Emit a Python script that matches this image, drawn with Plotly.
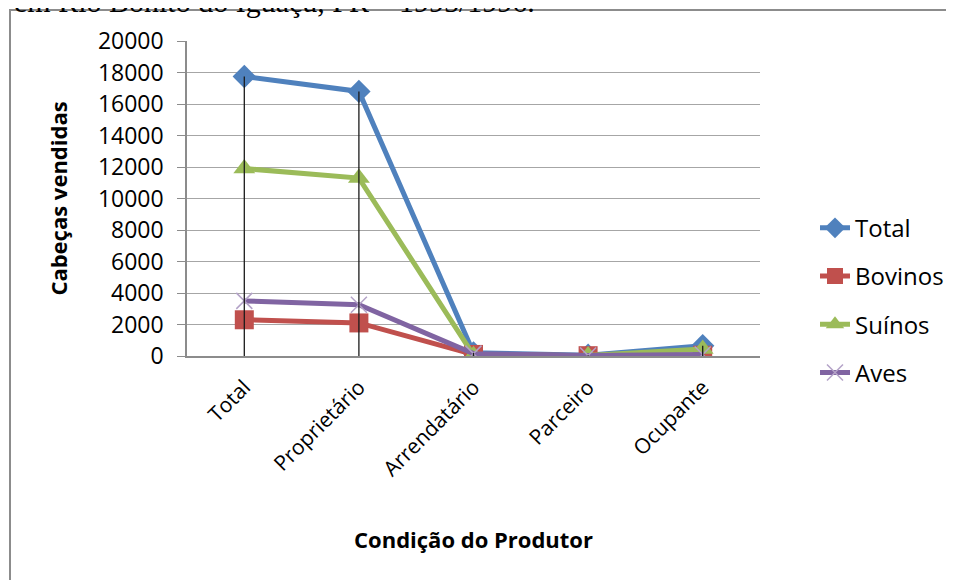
import plotly.graph_objects as go

categories = ["Total", "Proprietário", "Arrendatário", "Parceiro", "Ocupante"]
total = [17750, 16800, 200, 50, 650]
bovinos = [2300, 2100, 100, 20, 50]
suinos = [11900, 11300, 50, 30, 450]
aves = [3500, 3250, 150, 30, 100]
y_ticks = [0, 2000, 4000, 6000, 8000, 10000, 12000, 14000, 16000, 18000, 20000]

FONT = "Open Sans"
OFF = 8  # page body margin
W, H = 954 - OFF, 580 - OFF
L, T = 187 - OFF, 41 - OFF
R = W - (760 - OFF)
B = H - (356.5 - OFF)
PW, PH = W - L - R, H - T - B

def px(xs):
    return (xs - OFF - L) / PW

def py(ys):
    return (H - B - (ys - OFF)) / PH

fig = go.Figure()

series = [
    ("Total", total, "#4F81BD", dict(symbol="diamond", size=18, color="#4F81BD")),
    ("Bovinos", bovinos, "#C0504D", dict(symbol="square", size=19, color="#C0504D")),
    ("Suínos", suinos, "#9BBB59", dict(symbol="triangle-up", size=19, color="#9BBB59")),
    ("Aves", aves, "#8064A2", dict(symbol="x-thin", size=16, color="#B3A2C7",
                                    line=dict(color="#B3A2C7", width=1.5))),
]
for name, vals, col, mk in series:
    fig.add_trace(go.Scatter(
        x=categories, y=vals, name=name, mode="lines+markers",
        line=dict(color=col, width=5), marker=mk, legendgroup=name,
    ))

# drop lines from the highest value down to the axis
dx, dy = [], []
for i, c in enumerate(categories):
    m = max(total[i], bovinos[i], suinos[i], aves[i])
    dx += [c, c, None]
    dy += [m, 0, None]
fig.add_trace(go.Scatter(x=dx, y=dy, mode="lines", line=dict(color="#1a1a1a", width=1.3),
                         showlegend=False, hoverinfo="skip"))

fig.update_layout(
    width=W, height=H,
    margin=dict(l=L, r=R, t=T, b=B, autoexpand=False),
    paper_bgcolor="white", plot_bgcolor="white",
    font=dict(family=FONT, color="#000000"),
    showlegend=True,
    legend=dict(x=px(815), y=py(206), xanchor="left", yanchor="top",
                font=dict(size=24, family=FONT, color="#000"),
                tracegroupgap=14, bgcolor="rgba(0,0,0,0)"),
    xaxis=dict(
        type="category", range=[-0.5, 4.5], tickangle=-45,
        tickfont=dict(size=21, family=FONT), showgrid=False,
        showline=True, linecolor="#8C8C8C", linewidth=1.5,
        ticks="", ticklabelstandoff=9, automargin=False,
        title=dict(text="<b>Condição do Produtor</b>", font=dict(size=22, family=FONT), standoff=52),
    ),
    yaxis=dict(
        range=[0, 20000], tickvals=y_ticks, ticktext=[str(v) for v in y_ticks],
        tickfont=dict(size=23, family=FONT), showgrid=True, gridcolor="#A6A6A6", gridwidth=1,
        showline=True, linecolor="#8C8C8C", linewidth=1.5,
        ticks="outside", ticklen=8, tickcolor="#8C8C8C", ticklabelstandoff=9,
        zeroline=False, automargin=False,
        title=dict(text="<b>Cabeças vendidas</b>", font=dict(size=22, family=FONT), standoff=24),
    ),
    shapes=[dict(type="rect", xref="paper", yref="paper",
                 x0=px(10), x1=px(1010), y0=py(640), y1=py(10),
                 line=dict(color="#8C8C8C", width=2), fillcolor="rgba(0,0,0,0)", layer="below")],
    annotations=[dict(text=", em Rio Bonito do Iguaçu, PR – 1995/1996.", xref="paper", yref="paper",
                      x=px(-3), y=py(20), xanchor="left", yanchor="bottom", showarrow=False,
                      font=dict(family="Liberation Serif", size=30, color="#000"))],
)

fig.write_html("out.html")
